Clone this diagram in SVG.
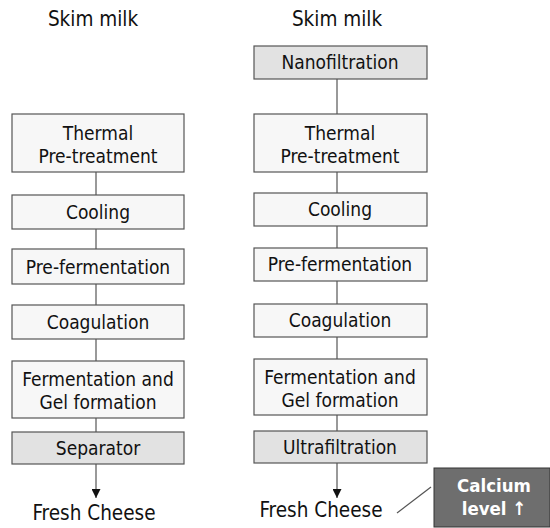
<svg xmlns="http://www.w3.org/2000/svg" width="550" height="528" viewBox="0 0 550 528">
  <defs>
    <marker id="arrow" viewBox="0 0 10 10" refX="10" refY="5" markerWidth="9" markerHeight="9" markerUnits="userSpaceOnUse" orient="auto">
      <path d="M0,0 L10,5 L0,10 z" fill="#111"/>
    </marker>
  </defs>
  <style>
    text { font-family: "DejaVu Sans Condensed", "DejaVu Sans", sans-serif; fill: #111; text-anchor: middle; font-stretch: condensed; }
    .title { font-size: 20.5px; }
    .lbl { font-size: 19px; }
    .out { font-size: 20.5px; }
    .box { fill: #f7f7f7; stroke: #555; stroke-width: 1.2; }
    .grey { fill: #e2e2e2; stroke: #555; stroke-width: 1.2; }
    .conn line { stroke: #555; stroke-width: 1.2; }
    .badge { fill: #6e6e6e; stroke: #333; stroke-width: 1; }
    .badge-text { font-size: 18.5px; font-weight: bold; fill: #fff; }
  </style>

  <!-- column titles -->
  <text class="title" x="93" y="26">Skim milk</text>
  <text class="title" x="337" y="26">Skim milk</text>

  <!-- connectors -->
  <g id="connectors" class="conn">
    <line x1="96" y1="172" x2="96" y2="195"/>
    <line x1="96" y1="229" x2="96" y2="249"/>
    <line x1="96" y1="284" x2="96" y2="305"/>
    <line x1="96" y1="339" x2="96" y2="361"/>
    <line x1="96" y1="418" x2="96" y2="432"/>
    <line x1="96" y1="464" x2="96" y2="498" marker-end="url(#arrow)"/>
    <line x1="337" y1="79" x2="337" y2="114"/>
    <line x1="337" y1="172" x2="337" y2="193"/>
    <line x1="337" y1="226" x2="337" y2="248"/>
    <line x1="337" y1="281" x2="337" y2="304"/>
    <line x1="337" y1="337" x2="337" y2="359"/>
    <line x1="337" y1="415" x2="337" y2="431"/>
    <line x1="337" y1="463" x2="337" y2="498" marker-end="url(#arrow)"/>
    <line x1="397" y1="513" x2="431" y2="487"/>
  </g>

  <!-- left process chain -->
  <g id="l-thermal">
    <rect class="box" x="12" y="114" width="172" height="58"/>
    <text class="lbl" x="98" y="140">Thermal</text>
    <text class="lbl" x="98" y="163">Pre-treatment</text>
  </g>
  <g id="l-cooling">
    <rect class="box" x="12" y="195" width="172" height="34"/>
    <text class="lbl" x="98" y="219">Cooling</text>
  </g>
  <g id="l-prefermentation">
    <rect class="box" x="12" y="249" width="172" height="35"/>
    <text class="lbl" x="98" y="274">Pre-fermentation</text>
  </g>
  <g id="l-coagulation">
    <rect class="box" x="12" y="305" width="172" height="34"/>
    <text class="lbl" x="98" y="329">Coagulation</text>
  </g>
  <g id="l-fermentation">
    <rect class="box" x="12" y="361" width="172" height="57"/>
    <text class="lbl" x="98" y="386">Fermentation and</text>
    <text class="lbl" x="98" y="409">Gel formation</text>
  </g>
  <g id="l-separator">
    <rect class="grey" x="12" y="432" width="172" height="32"/>
    <text class="lbl" x="98" y="455">Separator</text>
  </g>
  <g id="l-cheese">
    <text class="out" x="94" y="520">Fresh Cheese</text>
  </g>

  <!-- right process chain -->
  <g id="r-nanofiltration">
    <rect class="grey" x="254" y="46" width="173" height="33"/>
    <text class="lbl" x="340" y="69">Nanofiltration</text>
  </g>
  <g id="r-thermal">
    <rect class="box" x="254" y="114" width="173" height="58"/>
    <text class="lbl" x="340" y="140">Thermal</text>
    <text class="lbl" x="340" y="163">Pre-treatment</text>
  </g>
  <g id="r-cooling">
    <rect class="box" x="254" y="193" width="173" height="33"/>
    <text class="lbl" x="340" y="216">Cooling</text>
  </g>
  <g id="r-prefermentation">
    <rect class="box" x="254" y="248" width="173" height="33"/>
    <text class="lbl" x="340" y="271">Pre-fermentation</text>
  </g>
  <g id="r-coagulation">
    <rect class="box" x="254" y="304" width="173" height="33"/>
    <text class="lbl" x="340" y="327">Coagulation</text>
  </g>
  <g id="r-fermentation">
    <rect class="box" x="254" y="359" width="173" height="56"/>
    <text class="lbl" x="340" y="384">Fermentation and</text>
    <text class="lbl" x="340" y="407">Gel formation</text>
  </g>
  <g id="r-ultrafiltration">
    <rect class="grey" x="254" y="431" width="173" height="32"/>
    <text class="lbl" x="340" y="454">Ultrafiltration</text>
  </g>
  <g id="r-cheese">
    <text class="out" x="321" y="517">Fresh Cheese</text>
  </g>

  <!-- calcium note -->
  <g id="calcium">
    <rect class="badge" x="434" y="468" width="116" height="59"/>
    <text class="badge-text" x="494" y="492">Calcium</text>
    <text class="badge-text" x="494" y="515">level ↑</text>
  </g>
</svg>
